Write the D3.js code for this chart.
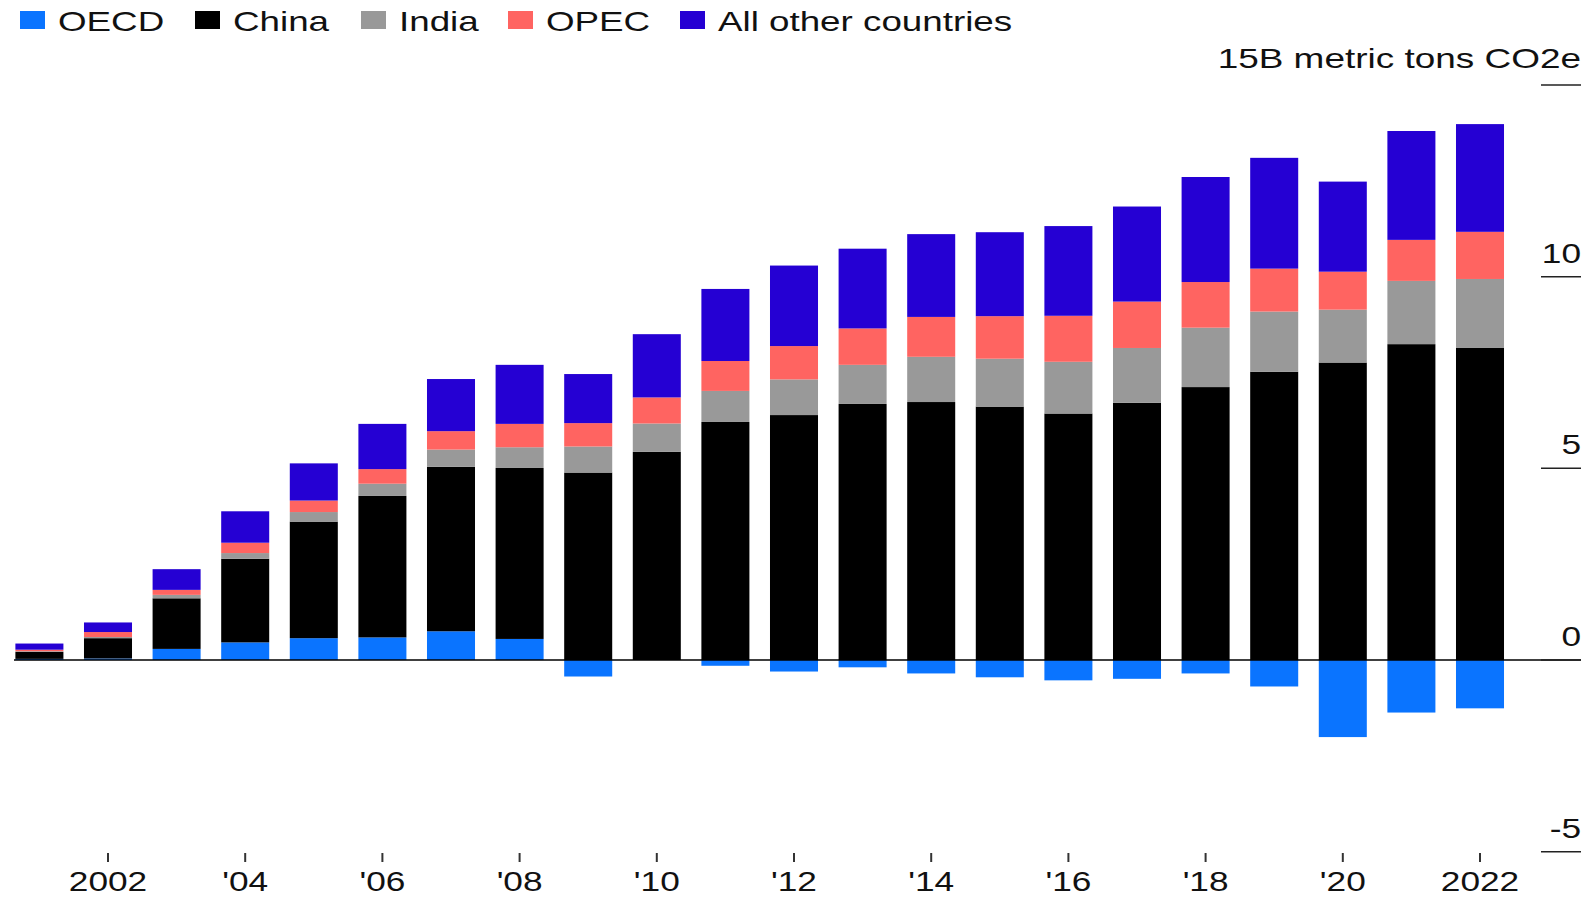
<!DOCTYPE html>
<html>
<head>
<meta charset="utf-8">
<script src="https://cdn.jsdelivr.net/npm/d3@7"></script>
<style>
  html, body { margin: 0; padding: 0; background: #fff; }
  svg { display: block; font-family: "Liberation Sans", Arial, Helvetica, sans-serif; }
</style>
</head>
<body>
<svg id="chart" width="1587" height="899"></svg>
<script>
// ---- data (billion metric tons CO2e) ----
const years = [2001,2002,2003,2004,2005,2006,2007,2008,2009,2010,2011,2012,2013,2014,2015,2016,2017,2018,2019,2020,2021,2022];
const seriesNames = ["OECD", "China", "India", "OPEC", "All other countries"];
const oecd   = [0.03,0.04,0.29,0.46,0.57,0.59,0.75,0.55,-0.43,0.00,-0.15,-0.30,-0.19,-0.35,-0.45,-0.53,-0.49,-0.35,-0.69,-2.01,-1.37,-1.26];
const china  = [0.18,0.53,1.32,2.18,3.04,3.69,4.29,4.46,4.89,5.43,6.21,6.39,6.68,6.73,6.61,6.43,6.71,7.12,7.52,7.76,8.24,8.14];
const india  = [0.02,0.03,0.09,0.15,0.25,0.32,0.45,0.54,0.68,0.74,0.81,0.93,1.02,1.18,1.25,1.35,1.43,1.55,1.57,1.38,1.65,1.80];
const opec   = [0.04,0.13,0.13,0.27,0.30,0.38,0.48,0.61,0.61,0.68,0.78,0.87,0.95,1.04,1.11,1.20,1.21,1.19,1.12,0.99,1.07,1.23];
const others = [0.16,0.25,0.54,0.82,0.97,1.18,1.36,1.54,1.28,1.65,1.88,2.10,2.08,2.16,2.19,2.34,2.48,2.74,2.89,2.35,2.84,2.81];
const yTicks = [-5, 0, 5, 10, 15];
const yTickLabels = ["-5", "0", "5", "10", "15B metric tons CO2e"];
const xTickYears = [2002,2004,2006,2008,2010,2012,2014,2016,2018,2020,2022];
const xTickLabels = ["2002","'04","'06","'08","'10","'12","'14","'16","'18","'20","2022"];

// ---- styling ----
const colors = { "OECD": "#0a74ff", "China": "#000000", "India": "#999999", "OPEC": "#ff6461", "All other countries": "#2500d3" };
const SX = 1.26; // horizontal text stretch

const svg = d3.select("#chart");

const table = years.map((yr, i) => ({
  year: yr,
  "OECD": oecd[i], "China": china[i], "India": india[i], "OPEC": opec[i], "All other countries": others[i]
}));

const stack = d3.stack().keys(seriesNames).offset(d3.stackOffsetDiverging);
const layers = stack(table);

const x = d3.scaleBand().domain(years).range([5.1, 1514.3]).paddingInner(0.3).paddingOuter(0.15);
const y = d3.scaleLinear().domain([-5, 15]).range([851.7, 85]);

// bars
svg.append("g").selectAll("g").data(layers).join("g")
  .attr("fill", d => colors[d.key])
  .selectAll("rect").data(d => d).join("rect")
  .attr("x", d => x(d.data.year))
  .attr("width", x.bandwidth())
  .attr("y", d => y(Math.max(d[0], d[1])))
  .attr("height", d => Math.abs(y(d[0]) - y(d[1])));

// zero line
svg.append("line")
  .attr("x1", 14).attr("x2", 1581)
  .attr("y1", y(0)).attr("y2", y(0))
  .attr("stroke", "#000").attr("stroke-width", 1.5);

// y axis (right)
const yg = svg.append("g");
yg.selectAll("line").data(yTicks).join("line")
  .attr("x1", 1541).attr("x2", 1581)
  .attr("y1", d => y(d)).attr("y2", d => y(d))
  .attr("stroke", "#222").attr("stroke-width", 1.5);
yg.selectAll("text").data(yTicks).join("text")
  .attr("transform", d => `translate(1581,${y(d) - (d === 15 ? 17 : 14)}) scale(${d === 15 ? 1.32 : SX},1)`)
  .attr("text-anchor", "end")
  .attr("font-size", 28)
  .attr("fill", "#111")
  .text((d, i) => yTickLabels[i]);

// x axis
const xg = svg.append("g");
xg.selectAll("line").data(xTickYears).join("line")
  .attr("x1", d => x(d) + x.bandwidth() / 2).attr("x2", d => x(d) + x.bandwidth() / 2)
  .attr("y1", 853).attr("y2", 862)
  .attr("stroke", "#333").attr("stroke-width", 2);
xg.selectAll("text").data(xTickYears).join("text")
  .attr("transform", d => `translate(${x(d) + x.bandwidth() / 2},891) scale(${SX},1)`)
  .attr("text-anchor", "middle")
  .attr("font-size", 28)
  .attr("fill", "#111")
  .text((d, i) => xTickLabels[i]);

// legend
const legendX = [20, 195, 361, 508, 680];
const lg = svg.append("g").selectAll("g").data(seriesNames).join("g")
  .attr("transform", (d, i) => `translate(${legendX[i]},0)`);
lg.append("rect").attr("x", 0).attr("y", 11).attr("width", 25).attr("height", 18)
  .attr("fill", d => colors[d]);
lg.append("text")
  .attr("transform", `translate(38,31) scale(1.29,1)`)
  .attr("font-size", 28.5)
  .attr("fill", "#111")
  .text(d => d);
</script>
</body>
</html>
